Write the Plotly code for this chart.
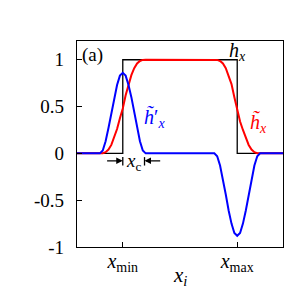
import plotly.graph_objects as go

# ---- data (x in units where x_min = 0, x_max = 1) ----
x_min = 0.0
x_max = 1.0
x_c = 0.19

step_x = [-0.4, 0.0, 1.0, 1.4]
step_y = [0, 1, 0, 0]

curve_x = [-0.4, -0.2, -0.175, -0.15, -0.125, -0.1, -0.075, -0.05, -0.025, 0.0,
           0.025, 0.05, 0.075, 0.1, 0.125, 0.15, 0.175, 0.2,
           0.8, 0.825, 0.85, 0.875, 0.9, 0.925, 0.95, 0.975, 1.0,
           1.025, 1.05, 1.075, 1.1, 1.125, 1.15, 1.175, 1.2, 1.4]

h_tilde = [0, 0, 0.002, 0.013, 0.04, 0.09, 0.165, 0.26, 0.375, 0.48,
           0.62, 0.735, 0.835, 0.91, 0.96, 0.987, 0.998, 1,
           1, 0.998, 0.987, 0.96, 0.91, 0.835, 0.74, 0.6, 0.45,
           0.34, 0.25, 0.165, 0.09, 0.04, 0.013, 0.002, 0, 0]

h_prime = [0, 0, 0.03, 0.13, 0.27, 0.43, 0.60, 0.73, 0.83, 0.86,
           0.83, 0.73, 0.60, 0.43, 0.27, 0.13, 0.03, 0,
           0, -0.03, -0.13, -0.27, -0.44, -0.61, -0.75, -0.85, -0.88,
           -0.85, -0.75, -0.61, -0.44, -0.27, -0.13, -0.03, 0, 0]

y_ticks = [1, 0.5, 0, -0.5, -1]
y_ticktext = ["1", "0.5", "0", "-0.5", "-1"]
x_ticks = [x_min, x_max]
x_ticktext = ["<i>x</i><sub>min</sub>", "<i>x</i><sub>max</sub>"]

FONT = "Liberation Serif"

fig = go.Figure()
fig.add_trace(go.Scatter(x=step_x, y=step_y, mode="lines", line=dict(color="black", width=1.3, shape="hv"),
                         showlegend=False, hoverinfo="skip"))
fig.add_trace(go.Scatter(x=curve_x, y=h_tilde, mode="lines", line=dict(color="#ff0000", width=2),
                         showlegend=False))
fig.add_trace(go.Scatter(x=curve_x, y=h_prime, mode="lines", line=dict(color="#0000ff", width=2),
                         showlegend=False))

ann = []
ann.append(dict(x=-0.4, y=1.2, xref="x", yref="y", text="(a)", showarrow=False,
                xanchor="left", yanchor="top", xshift=3, yshift=-1, font=dict(family=FONT, size=19, color="black")))
ann.append(dict(x=1.0, y=1.09, xref="x", yref="y", text="<i>h</i><sub><i>x</i></sub>", showarrow=False,
                font=dict(family=FONT, size=20, color="black")))
ann.append(dict(x=0.28, y=0.38, xref="x", yref="y", text="<i>h\u0303</i>\u2032<sub><i>x</i></sub>", showarrow=False,
                font=dict(family=FONT, size=20, color="#0000ff")))
ann.append(dict(x=1.19, y=0.32, xref="x", yref="y", text="<i>h\u0303</i><sub><i>x</i></sub>", showarrow=False,
                font=dict(family=FONT, size=20, color="#ff0000")))
ann.append(dict(x=x_min + x_c / 2, y=-0.09, xref="x", yref="y", text="<i>x</i><sub>c</sub>", showarrow=False,
                font=dict(family=FONT, size=19, color="black")))
ann.append(dict(x=x_min, y=-0.08, xref="x", yref="y", ax=x_min - 0.15, ay=-0.08, axref="x", ayref="y",
                text="", showarrow=True, arrowhead=2, arrowsize=1, arrowwidth=1.3, arrowcolor="black"))
ann.append(dict(x=x_min + x_c, y=-0.08, xref="x", yref="y", ax=x_min + x_c + 0.15, ay=-0.08, axref="x", ayref="y",
                text="", showarrow=True, arrowhead=2, arrowsize=1, arrowwidth=1.3, arrowcolor="black"))
# x-axis title
ann.append(dict(x=0.5, y=-0.14, xref="paper", yref="paper", text="<i>x</i><sub><i>i</i></sub>", showarrow=False,
                yanchor="middle", font=dict(family=FONT, size=21, color="black")))

shapes = [
    dict(type="line", xref="x", yref="y", x0=x_min, x1=x_min, y0=-0.04, y1=-0.13, line=dict(color="black", width=1.3)),
    dict(type="line", xref="x", yref="y", x0=x_min + x_c, x1=x_min + x_c, y0=-0.04, y1=-0.13, line=dict(color="black", width=1.3)),
]

# page body has an 8px default margin: figure is shrunk/shifted to compensate
fig.update_layout(
    width=299, height=299,
    margin=dict(l=69, r=24, t=33, b=60),
    paper_bgcolor="white", plot_bgcolor="white",
    font=dict(family=FONT, size=19, color="black"),
    annotations=ann, shapes=shapes,
    xaxis=dict(range=[-0.4, 1.4], tickvals=x_ticks, ticktext=x_ticktext, ticks="inside", ticklen=5,
               tickcolor="black", showgrid=False, zeroline=False, showline=True, linecolor="black",
               linewidth=1.3, mirror=True, tickfont=dict(family=FONT, size=20), ticklabelstandoff=-4),
    yaxis=dict(range=[-1, 1.2], tickvals=y_ticks, ticktext=y_ticktext, ticks="inside", ticklen=5,
               tickcolor="black", showgrid=False, zeroline=False, showline=True, linecolor="black",
               linewidth=1.3, mirror=True, tickfont=dict(family=FONT, size=19), ticklabelstandoff=8),
)

fig.write_html("out.html")
